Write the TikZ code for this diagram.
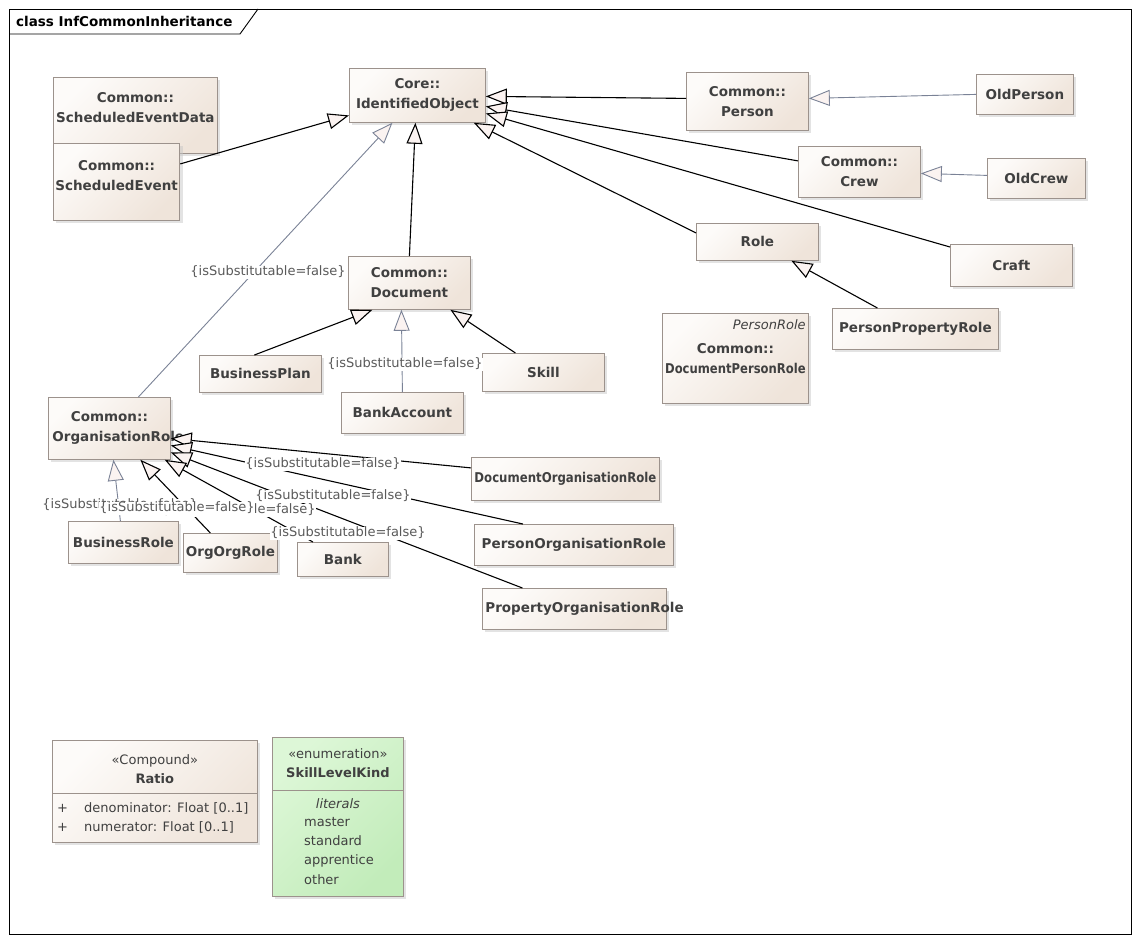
\documentclass[tikz,border=0pt]{standalone}
\usepackage{fontspec}
\usepackage{graphicx}
\setmainfont{DejaVu Sans}
\usetikzlibrary{arrows.meta,shadows,calc}

\definecolor{boxtop}{HTML}{FDFBF9}
\definecolor{boxbot}{HTML}{EFE4DA}
\definecolor{enumtop}{HTML}{DDF7D7}
\definecolor{enumbot}{HTML}{C2ECBA}
\definecolor{boxline}{HTML}{9C928C}
\definecolor{txtgray}{HTML}{404040}
\definecolor{lblgray}{HTML}{5A5A5A}
\definecolor{subline}{HTML}{7A8296}
\definecolor{headfill}{HTML}{FBF3F1}

\tikzset{
    >={Triangle[length=21pt, width=16pt, fill=headfill]} % hollow UML tip
}
\tikzstyle{cls}=[
    draw = boxline,
    line width = 0.8pt,
    left color = boxtop,
    right color = boxbot,
    shading angle = 45,
    drop shadow = {shadow xshift=3pt, shadow yshift=-3pt, fill=black!22},
    anchor = north west,
    align = center,
    inner xsep = 2pt,
    text = txtgray,
    font = \fontsize{13.5}{20}\selectfont\bfseries
]
\tikzstyle{enum}=[
    left color = enumtop,
    right color = enumbot,
    shading angle = 45
]
\tikzstyle{gen}=[line width=1.1pt, ->]
\tikzstyle{subst}=[subline, line width=0.9pt, ->]
\tikzstyle{lbl}=[
    fill = white,
    inner sep = 0.5pt,
    text = lblgray,
    font = \fontsize{13}{15}\selectfont
]
\tikzstyle{txt}=[
    inner sep = 0pt,
    text = txtgray,
    font = \fontsize{13}{19}\selectfont
]

\begin{document}
\begin{tikzpicture}[x=1pt, y=-1pt]
    \useasboundingbox (0,0) rectangle (1139,942);

    % frame
    \draw [line width=0.9pt] (9,9) rectangle (1131,934);
    \draw [line width=0.9pt] (9,34) -- (240,34) -- (258,9);
    \node [anchor=west, inner sep=0pt, font=\fontsize{13.5}{15}\selectfont\bfseries] (title) at (16,21) {class InfCommonInheritance};

    % classes
    \draw node [cls, minimum width=164pt, minimum height=76pt, text depth=15pt] (sed) at (53,77) {Common::\\ScheduledEventData};
    \draw node [cls, minimum width=122pt, minimum height=77pt, text depth=13pt] (se) at (53,143) {Common::\\ScheduledEvent};
    \draw node [cls, minimum width=136pt, minimum height=54pt] (io) at (349,68) {Core::\\IdentifiedObject};
    \draw node [cls, minimum width=122pt, minimum height=58pt] (person) at (686,72) {Common::\\Person};
    \draw node [cls, minimum width=97pt, minimum height=40pt] (oldperson) at (976,74) {OldPerson};
    \draw node [cls, minimum width=122pt, minimum height=51pt] (crew) at (798,146) {Common::\\Crew};
    \draw node [cls, minimum width=98pt, minimum height=40pt] (oldcrew) at (987,158) {OldCrew};
    \draw node [cls, minimum width=122pt, minimum height=37pt] (role) at (696,223) {Role};
    \draw node [cls, minimum width=122pt, minimum height=42pt] (craft) at (950,244) {Craft};
    \draw node [cls, minimum width=166pt, minimum height=41pt] (pprole) at (832,308) {PersonPropertyRole};
    \draw node [cls, minimum width=146pt, minimum height=90pt] (dpr) at (662,313) {Common::\\\scalebox{0.86}[1]{DocumentPersonRole}};
    \node [anchor=north east, inner sep=0pt, text=txtgray, font=\fontsize{13}{15}\selectfont\itshape] (dprtag) at ([xshift=-3pt, yshift=-6pt]dpr.north east) {PersonRole};

    \draw node [cls, minimum width=122pt, minimum height=53pt] (doc) at (348,256) {Common::\\Document};
    \draw node [cls, minimum width=122pt, minimum height=37pt] (bplan) at (199,355) {BusinessPlan};
    \draw node [cls, minimum width=122pt, minimum height=41pt] (bacc) at (341,392) {BankAccount};
    \draw node [cls, minimum width=122pt, minimum height=38pt] (skill) at (482,353) {Skill};

    \draw node [cls, minimum width=122pt, minimum height=62pt] (org) at (48,397) {Common::\\\makebox[114pt][l]{OrganisationRole}};
    \draw node [cls, minimum width=110pt, minimum height=42pt] (brole) at (68,521) {BusinessRole};
    \draw node [cls, minimum width=94pt, minimum height=39pt] (oorole) at (183,533) {OrgOrgRole};
    \draw node [cls, minimum width=91pt, minimum height=34pt] (bank) at (297,542) {Bank};
    \draw node [cls, minimum width=188pt, minimum height=43pt] (docorg) at (471,457) {\scalebox{0.87}[1]{DocumentOrganisationRole}};
    \draw node [cls, minimum width=199pt, minimum height=41pt] (perorg) at (474,524) {PersonOrganisationRole};
    \draw node [cls, minimum width=184pt, minimum height=41pt] (proporg) at (482,588) {\makebox[178pt][l]{PropertyOrganisationRole}};

    % datatypes
    \draw node [cls, minimum width=205pt, minimum height=102pt] (ratio) at (52,740) {};
    \draw [boxline, line width=0.8pt] ($(ratio.north west)+(0,53)$) -- ($(ratio.north east)+(0,53)$);
    \node [txt, anchor=north, align=center] (ratiohead) at ($(ratio.north)+(0,14)$) {«Compound»\\\textbf{Ratio}};
    \node [txt, anchor=north west, align=left, font=\fontsize{13}{19}\selectfont] (ratioattr) at ($(ratio.north west)+(5,62)$) {\makebox[27pt][l]{+}denominator: Float [0..1]\\\makebox[27pt][l]{+}numerator: Float [0..1]};

    \draw node [cls, enum, minimum width=131pt, minimum height=159pt] (slk) at (272,737) {};
    \draw [boxline, line width=0.8pt] ($(slk.north west)+(0,53)$) -- ($(slk.north east)+(0,53)$);
    \node [txt, anchor=north, align=center] (slkhead) at ($(slk.north)+(0,11)$) {«enumeration»\\\textbf{SkillLevelKind}};
    \node [txt, anchor=north] (slklit) at ($(slk.north)+(0,61)$) {\textit{literals}};
    \node [txt, anchor=north west, align=left, font=\fontsize{13}{19.3}\selectfont] (slkvals) at ($(slk.north west)+(32,80)$) {master\\standard\\apprentice\\other};

    % generalizations
    \draw [gen] ([yshift=18pt]se.east) -- ([yshift=-20pt]io.west);
    \draw [subst] ([xshift=29pt]org.north) -- ([xshift=-25pt]io.south);
    \draw [gen] (doc.north) -- ([xshift=-2pt]io.south);
    \draw [gen] ([yshift=3pt]person.west) -- ([yshift=-1pt]io.east);
    \draw [gen] ([yshift=11pt]crew.west) -- ([yshift=-11pt]io.east);
    \draw [gen] ([yshift=-3pt]craft.north west) -- ([yshift=-18pt]io.east);
    \draw [gen] ([yshift=9pt]role.west) -- ([xshift=-12pt]io.south east);
    \draw [subst] (oldperson.west) -- ([yshift=3pt]person.east);
    \draw [subst] ([yshift=3pt]oldcrew.west) -- ([yshift=-1.5pt]crew.east);
    \draw [gen] ([xshift=-38pt]pprole.north) -- ([xshift=34pt]role.south);

    \draw [gen] ([xshift=-6pt]bplan.north) -- ([xshift=-37pt]doc.south);
    \draw [subst] (bacc.north) -- ([xshift=-8pt]doc.south);
    \draw [gen] ([xshift=-28pt]skill.north) -- ([xshift=41pt]doc.south);

    \draw [gen] ([yshift=11pt]docorg.west) -- ([yshift=-10pt]org.east);
    \draw [gen] ([xshift=-51pt]perorg.north) -- ([yshift=-17pt]org.east);
    \draw [gen] ([xshift=-52pt]proporg.north) -- ([yshift=-24pt]org.east);
    \draw [gen] ([xshift=-30pt]bank.north) -- ([xshift=-6pt]org.south east);
    \draw [gen] ([xshift=-20pt]oorole.north) -- ([xshift=31pt]org.south);
    \draw [subst] ([xshift=-3pt]brole.north) -- ([xshift=4pt]org.south);

    % constraints
    \node [lbl] (lblio) at (268,272) {\{isSubstitutable=false\}};
    \node [lbl] (lblbacc) at (405,364) {\{isSubstitutable=false\}};
    \node [lbl] (lbldocorg) at (323,464) {\{isSubstitutable=false\}};
    \node [lbl] (lblperorg) at (333,496) {\{isSubstitutable=false\}};
    \node [lbl] (lblproporg) at (348,533) {\{isSubstitutable=false\}};
    \node [lbl] (lblbrole) at (120,505) {\{isSubstitutable=false\}};
    \node [lbl] (lblbank) at (238,510) {\{isSubstitutable=false\}};
    \node [lbl] (lbloorole) at (177,508) {\{isSubstitutable=false\}};
\end{tikzpicture}
\end{document}
